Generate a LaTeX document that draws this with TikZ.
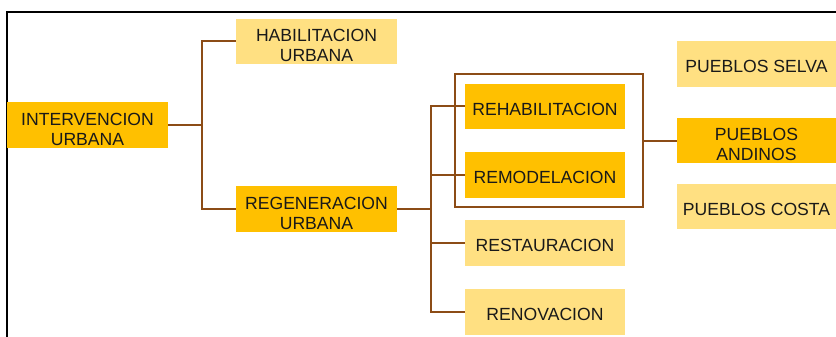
\documentclass[tikz,border=0pt]{standalone}
\usepackage{fontspec}
\setmainfont{Liberation Sans}
\usepackage{tikz}
\usetikzlibrary{calc}

\definecolor{oro}{RGB}{255,192,0}
\definecolor{oroclaro}{RGB}{255,224,130}
\definecolor{cafe}{RGB}{140,76,22}

\begin{document}
\begin{tikzpicture}[x=1pt, y=-1pt,
    caja/.style={rectangle, inner sep=0pt, align=center, text=black!90,
        font=\fontsize{17.6}{20}\selectfont,
        execute at begin node={\rule{0pt}{17.5pt}}},
    doble/.style={text height=40pt, text depth=0pt},
    cajaoro/.style={caja, fill=oro},
    cajaclara/.style={caja, fill=oroclaro},
    rama/.style={draw=cafe, line width=2pt}]
    \useasboundingbox (0, 0) rectangle (836, 337);
    % marco exterior
    \draw[line width=1.8pt, black] (7, 337) -- (7, 12) -- (836, 12);
    % cajas
    \node[cajaoro, doble, minimum width=161, minimum height=46] (inter) at (87.5, 125) {INTERVENCION\\URBANA};
    \node[cajaclara, doble, minimum width=161, minimum height=45] (habil) at (316.5, 41.5) {HABILITACION\\URBANA};
    \node[cajaoro, doble, minimum width=161, minimum height=46] (regen) at (316.5, 209) {REGENERACION\\URBANA};
    \node[draw=cafe, line width=2pt, minimum width=188, minimum height=133] (grupo) at (549, 140.5) {};
    \node[cajaoro, minimum width=160, minimum height=45] (rehab) at (545, 106.5) {REHABILITACION};
    \node[cajaoro, minimum width=160, minimum height=46] (remod) at (545, 175) {REMODELACION};
    \node[cajaclara, minimum width=160, minimum height=46] (resta) at (545, 243) {RESTAURACION};
    \node[cajaclara, minimum width=160, minimum height=46] (renov) at (545, 312) {RENOVACION};
    \node[cajaclara, minimum width=159, minimum height=46] (selva) at (756.5, 64) {PUEBLOS SELVA};
    \node[cajaoro, doble, minimum width=159, minimum height=45] (andinos) at (756.5, 140.5) {PUEBLOS\\ANDINOS};
    \node[cajaclara, minimum width=159, minimum height=45] (costa) at (756.5, 206.5) {PUEBLOS COSTA};
    % ramas
    \coordinate (j1) at ($(inter.east)+(34,0)$);
    \coordinate (j2) at ($(regen.east)+(34,0)$);
    \draw[rama] (inter.east) -- (j1);
    \draw[rama] (j1) |- (habil.west);
    \draw[rama] (j1) |- (regen.west);
    \draw[rama] (regen.east) -- (j2);
    \draw[rama] (j2) |- (rehab.west);
    \draw[rama] (j2) |- (remod.west);
    \draw[rama] (j2) |- (resta.west);
    \draw[rama] (j2) |- (renov.west);
    \draw[rama] (grupo.east) -- (andinos.west);
\end{tikzpicture}
\end{document}
